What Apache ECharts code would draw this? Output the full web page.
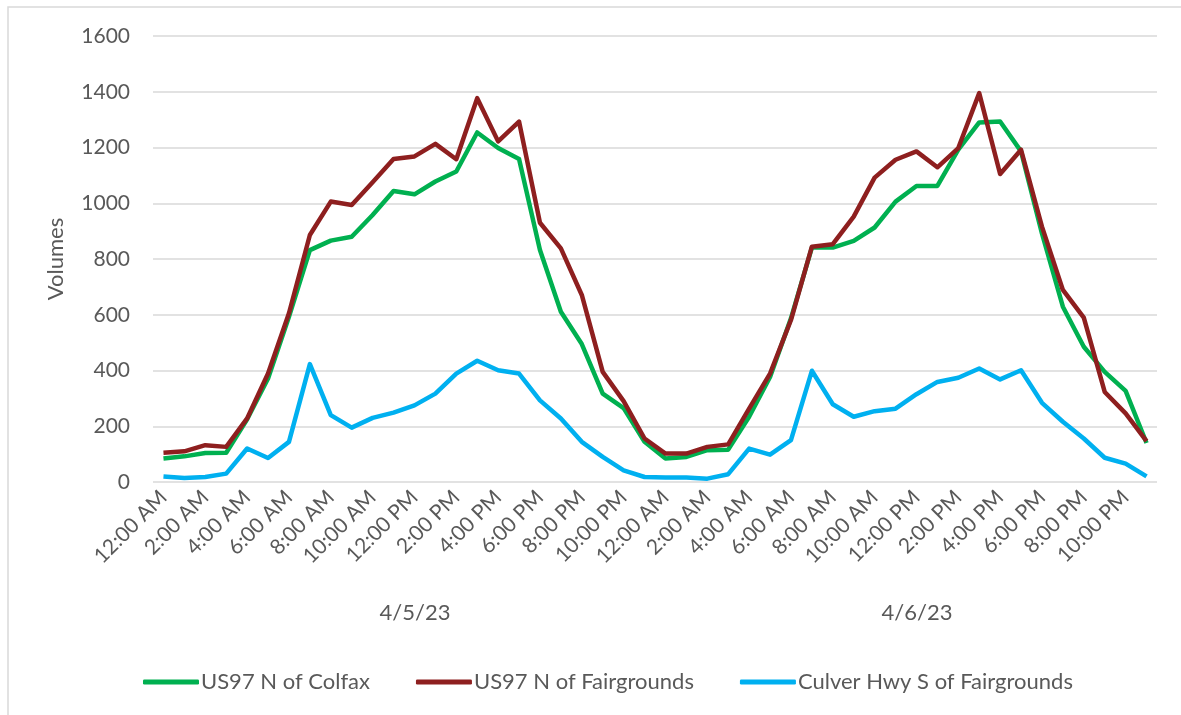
<!DOCTYPE html>
<html>
<head>
<meta charset="utf-8">
<script src="https://cdn.jsdelivr.net/npm/echarts@6/dist/echarts.min.js"></script>
<style>
html,body{margin:0;padding:0;background:#fff;}
#chart{width:1181px;height:715px;}
</style>
</head>
<body>
<div id="chart"></div>
<script>
const hours = [
  "12:00 AM","1:00 AM","2:00 AM","3:00 AM","4:00 AM","5:00 AM","6:00 AM","7:00 AM","8:00 AM","9:00 AM","10:00 AM","11:00 AM",
  "12:00 PM","1:00 PM","2:00 PM","3:00 PM","4:00 PM","5:00 PM","6:00 PM","7:00 PM","8:00 PM","9:00 PM","10:00 PM","11:00 PM"
];
const days = ["4/5/23", "4/6/23"];
const categories = days.flatMap(d => hours.map(h => d + " " + h));

const colfax = [
  84, 92, 104, 105, 225, 371, 593, 832, 866, 880, 958, 1044,
  1032, 1078, 1114, 1254, 1198, 1159, 832, 611, 495, 317, 265, 144,
  84, 90, 114, 116, 234, 377, 587, 841, 841, 865, 913, 1006,
  1062, 1062, 1192, 1290, 1293, 1186, 892, 629, 485, 395, 327, 140
];
const fairgrounds = [
  105, 110, 132, 126, 228, 389, 605, 886, 1006, 994, 1075, 1159,
  1168, 1213, 1158, 1377, 1222, 1293, 930, 838, 671, 395, 290, 156,
  102, 102, 126, 135, 263, 389, 581, 844, 853, 952, 1092, 1156,
  1186, 1129, 1198, 1395, 1105, 1192, 916, 689, 590, 323, 246, 147
];
const culver = [
  20, 14, 18, 30, 120, 86, 144, 423, 240, 195, 230, 249,
  275, 317, 389, 435, 401, 389, 293, 228, 144, 90, 42, 18,
  16, 16, 12, 28, 120, 98, 150, 399, 279, 234, 254, 263,
  315, 359, 374, 407, 368, 401, 284, 216, 156, 87, 66, 20
];
const seriesNames = ["US97 N of Colfax", "US97 N of Fairgrounds", "Culver Hwy S of Fairgrounds"];
const yTicks = [0, 200, 400, 600, 800, 1000, 1200, 1400, 1600];

const FONT = "Lato";
const TXT = "#595959";
const colors = ["#00B050", "#8E1F1F", "#00B0F0"];

const chart = echarts.init(document.getElementById("chart"), null, {renderer: "canvas"});
chart.setOption({
  animation: false,
  backgroundColor: "#ffffff",
  textStyle: {fontFamily: FONT, color: TXT},
  color: colors,
  graphic: [{
    type: "rect",
    shape: {x: 8, y: 7, width: 1300, height: 800},
    style: {fill: "none", stroke: "#D9D9D9", lineWidth: 1.5},
    silent: true, z: -1
  }],
  grid: {left: 153, right: 24, top: 36, bottom: 233, containLabel: false},
  legend: {
    bottom: 17,
    left: 138,
    itemWidth: 56,
    itemHeight: 5,
    itemGap: 46,
    icon: "roundRect",
    textStyle: {fontFamily: FONT, fontSize: 22, color: TXT, padding: [0, 0, 0, -3]},
    data: seriesNames
  },
  xAxis: [{
    type: "category",
    data: categories,
    boundaryGap: true,
    axisLine: {show: false},
    axisTick: {show: false},
    axisLabel: {
      interval: 1,
      rotate: 45,
      fontFamily: FONT,
      fontSize: 21,
      color: TXT,
      margin: 12,
      formatter: v => v.split(" ").slice(1).join(" ")
    },
    splitLine: {show: false}
  }, {
    type: "category",
    data: days,
    position: "bottom",
    offset: 112,
    boundaryGap: true,
    axisLine: {show: false},
    axisTick: {show: false},
    axisLabel: {fontFamily: FONT, fontSize: 22, color: TXT, margin: 8, padding: [0, 0, 0, 22]},
    splitLine: {show: false}
  }],
  yAxis: {
    type: "value",
    min: yTicks[0],
    max: yTicks[yTicks.length - 1],
    interval: 200,
    name: "Volumes",
    nameLocation: "middle",
    nameGap: 86,
    nameRotate: 90,
    nameTextStyle: {fontFamily: FONT, fontSize: 22, color: TXT},
    axisLine: {show: false},
    axisTick: {show: false},
    axisLabel: {fontFamily: FONT, fontSize: 21, color: TXT, margin: 23, formatter: v => String(v)},
    splitLine: {show: true, lineStyle: {color: "#D9D9D9", width: 1.5}}
  },
  series: [
    {name: seriesNames[0], type: "line", data: colfax, symbol: "none", lineStyle: {width: 4.5, color: colors[0], join: "round"}, z: 2},
    {name: seriesNames[1], type: "line", data: fairgrounds, symbol: "none", lineStyle: {width: 4.5, color: colors[1], join: "round"}, z: 3},
    {name: seriesNames[2], type: "line", data: culver, symbol: "none", lineStyle: {width: 4.5, color: colors[2], join: "round"}, z: 4}
  ]
});
</script>
</body>
</html>
